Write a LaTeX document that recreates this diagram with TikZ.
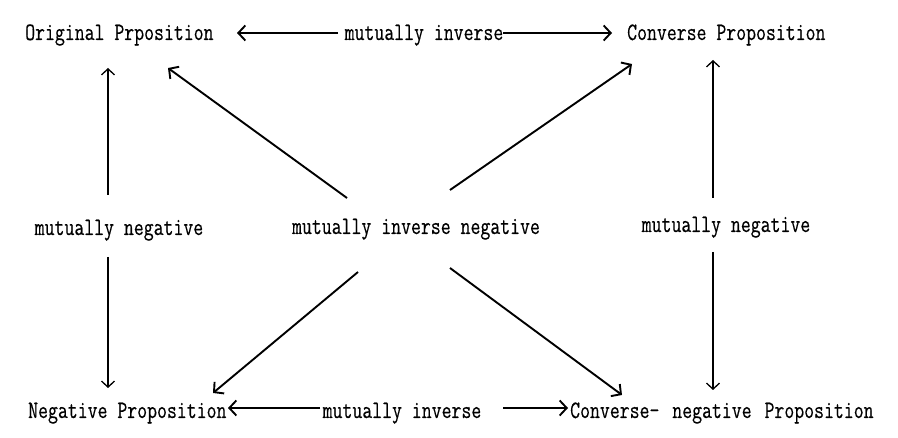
\documentclass[tikz,border=0pt]{standalone}
\usepackage{fontspec}
\setmonofont[FakeStretch=0.77,FakeBold=0.4]{Latin Modern Mono}
\usepackage{tikz}
\usetikzlibrary{arrows.meta}

\begin{document}
\begin{tikzpicture}[x=1pt,y=-1pt,>={Straight Barb[length=6pt,width=13pt]},
  font=\ttfamily\fontsize{25}{25}\selectfont,
  prop/.style={anchor=base west,inner sep=0pt},
  rel/.style={anchor=base,inner sep=0pt},
  thickarr/.style={-{Straight Barb[length=7pt,width=15pt]},line width=1.9pt},
  thinarr/.style={->,line width=1.3pt}]
  \useasboundingbox (0,0) rectangle (898,438);
  \node[prop] (orig) at (25,40) {Original Prposition};
  \node[prop] (conv) at (627,40) {Converse Proposition};
  \node[prop] (neg) at (28,418) {Negative Proposition};
  \node[prop] (cneg) at (570,418) {Converse-\hspace{3pt} negative\hspace{3pt} Proposition};
  \node[rel] (topinv) at (424,40) {mutually inverse};
  \node[rel] (botinv) at (402,418) {mutually inverse};
  \node[rel] (lneg) at (119,235) {mutually negative};
  \node[rel] (cinv) at (416,234) {mutually inverse negative};
  \node[rel] (rneg) at (726,232) {mutually negative};
  \draw[thickarr] ([shift={(-86,-7)}]topinv.base) -- ([shift={(212,-7)}]orig.base west);
  \draw[thickarr] ([shift={(79,-7)}]topinv.base) -- ([shift={(-15,-7)}]conv.base west);
  \draw[thickarr] ([shift={(-82,-10)}]botinv.base) -- ([shift={(200,-10)}]neg.base west);
  \draw[thickarr] ([shift={(101,-10)}]botinv.base) -- ([shift={(-2,-10)}]cneg.base west);
  \draw[thinarr] ([shift={(-11,-40)}]lneg.base) -- ([shift={(83,28)}]orig.base west);
  \draw[thinarr] ([shift={(-11,22)}]lneg.base) -- ([shift={(80,-30)}]neg.base west);
  \draw[thinarr] ([shift={(-13,-34)}]rneg.base) -- ([shift={(86,20)}]conv.base west);
  \draw[thinarr] ([shift={(-13,20)}]rneg.base) -- ([shift={(143,-28)}]cneg.base west);
  \draw[thickarr] ([shift={(-69,-36)}]cinv.base) -- ([shift={(143,28)}]orig.base west);
  \draw[thickarr] ([shift={(34,-44)}]cinv.base) -- ([shift={(5,24)}]conv.base west);
  \draw[thickarr] ([shift={(-58,38)}]cinv.base) -- ([shift={(185,-25)}]neg.base west);
  \draw[thickarr] ([shift={(34,34)}]cinv.base) -- ([shift={(52,-23)}]cneg.base west);
\end{tikzpicture}
\end{document}
